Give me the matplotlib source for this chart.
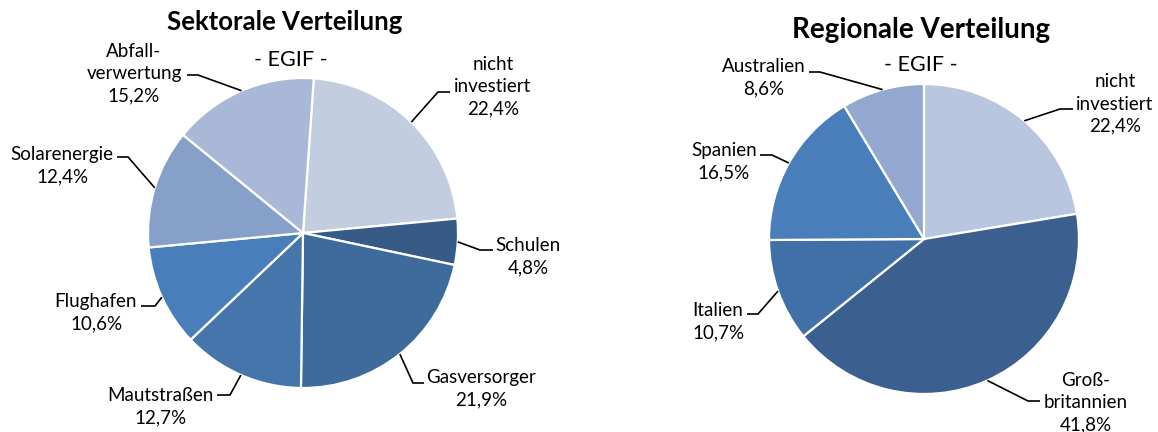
import matplotlib.pyplot as plt
import numpy as np

plt.rcParams['font.family'] = ['Lato', 'DejaVu Sans']

W, H = 1158, 432

# Sektorale Verteilung
sek_labels = ['nicht\ninvestiert', 'Schulen', 'Gasversorger', 'Mautstraßen',
              'Flughafen', 'Solarenergie', 'Abfall-\nverwertung']
sek_values = [22.4, 4.8, 21.9, 12.7, 10.6, 12.4, 15.2]
sek_colors = ['#C3CDE0', '#375A87', '#3F6A9C', '#4675AC', '#4A7EBA', '#87A0CA', '#A9B8D6']

# Regionale Verteilung
reg_labels = ['nicht\ninvestiert', 'Groß-\nbritannien', 'Italien', 'Spanien', 'Australien']
reg_values = [22.4, 41.8, 10.7, 16.5, 8.6]
reg_colors = ['#B9C6DF', '#3B5F8E', '#4170A6', '#4A7EBA', '#94A8CF']

# label layout in pixel coords (top-down): text x, text y, elbow x, elbow y, end x
sek_layout = [(493, 87, 438, 92, 450),
              (528, 257, 480, 250, 493),
              (481, 389, 413, 383, 424),
              (160, 407, 230, 395, 217),
              (96, 313, 155, 306, 141),
              (62, 166, 128, 157, 117),
              (134, 74, 198, 75, 187)]
reg_layout = [(1115, 104, 1060, 109, 1073),
              (1086, 403, 1028, 401, 1040),
              (718, 322, 758, 314, 747),
              (724, 162, 772, 155, 760),
              (764, 78, 820, 72, 809)]


def fmt(v):
    return '{:.1f}%'.format(v).replace('.', ',')


def draw_pie(ax, values, labels, colors, layout, center, radius, start):
    cx, cy = center[0], H - center[1]
    wedges, _ = ax.pie(values, colors=colors, startangle=start, counterclock=False,
                       center=(cx, cy), radius=radius, normalize=True,
                       wedgeprops=dict(edgecolor='white', linewidth=1.6))
    for w, lab, val, (tx, ty, ex, ey, endx) in zip(wedges, labels, values, layout):
        mid = np.deg2rad((w.theta1 + w.theta2) / 2.)
        px = cx + radius * np.cos(mid)
        py = cy + radius * np.sin(mid)
        ax.plot([px, ex, endx], [py, H - ey, H - ey], color='black', linewidth=1.2,
                solid_capstyle='butt', solid_joinstyle='miter')
        ax.text(tx, H - ty, lab + '\n' + fmt(val), ha='center', va='center',
                fontsize=13.5, linespacing=1.38)


fig = plt.figure(figsize=(W / 100., H / 100.), dpi=100)
ax = fig.add_axes([0, 0, 1, 1])

draw_pie(ax, sek_values, sek_labels, sek_colors, sek_layout, (303, 233), 155, 86)
draw_pie(ax, reg_values, reg_labels, reg_colors, reg_layout, (924, 239), 155, 90)
ax.set_xlim(0, W)
ax.set_ylim(0, H)
ax.set_aspect('auto')
ax.axis('off')

ax.text(285, H - 22, 'Sektorale Verteilung', ha='center', va='center',
        fontsize=18.5, fontweight='bold')
ax.text(291, H - 60, '- EGIF -', ha='center', va='center', fontsize=15.5)
ax.text(921, H - 30, 'Regionale Verteilung', ha='center', va='center',
        fontsize=20, fontweight='bold')
ax.text(921, H - 65, '- EGIF -', ha='center', va='center', fontsize=15.5)

fig.savefig('out.png', dpi=100)
